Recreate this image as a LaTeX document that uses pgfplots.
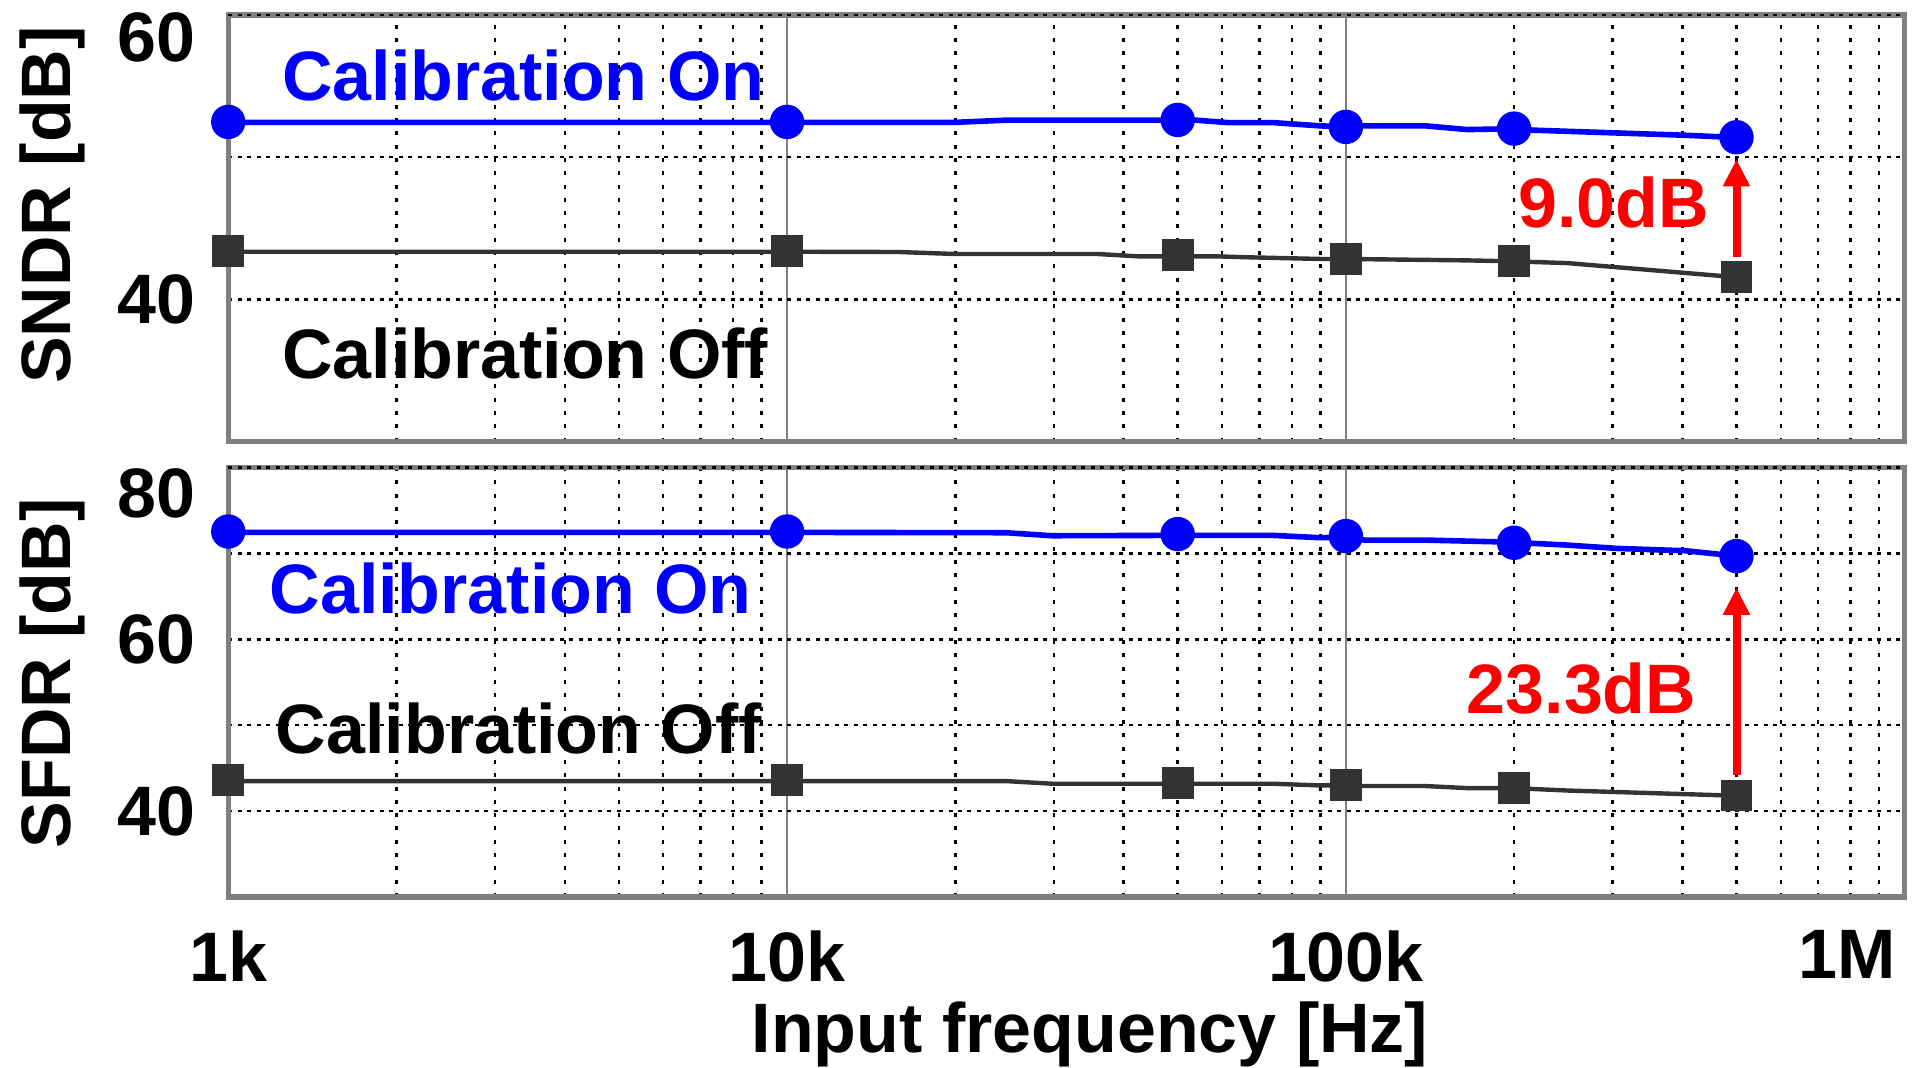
\documentclass[border=0pt]{standalone}
\usepackage{pgfplots}
\pgfplotsset{compat=1.18}
\usetikzlibrary{arrows.meta}
\usepackage{fontspec}
\setmainfont{Liberation Sans}
\definecolor{cblue}{RGB}{0,0,255}
\definecolor{cred}{RGB}{255,0,0}
\definecolor{cdark}{RGB}{51,51,51}
\definecolor{cframe}{RGB}{128,128,128}
\newcommand{\bigf}{\fontsize{17.5}{21}\selectfont\bfseries}

\begin{document}
\begin{tikzpicture}
\path (0pt,0pt) rectangle (479.5pt,-267pt);

% ---------------- SNDR ----------------
\begin{axis}[
  xmode=log,
  scale only axis, width=419.25pt, height=106.67pt,
  at={(57.08pt,-3.75pt)}, anchor=north west,
  xmin=1000, xmax=1000000,
  xtick={1000,10000,100000,1000000},
  xticklabels={,,,},
  clip=false,
  axis line style={cframe, line width=1.3pt},
  major tick length=0pt, minor tick length=0pt,
  xmajorgrids, xminorgrids, ymajorgrids,
  major x grid style={cframe, line width=0.5pt, solid},
  minor x grid style={black, line width=0.6pt, dash pattern=on 1pt off 2.33pt},
  major y grid style={black, line width=0.6pt, dash pattern=on 1pt off 1.37pt},
  tick label style={font=\bigf},
  label style={font=\bigf, inner sep=0pt},
  /pgf/number format/assume math mode=true,
  yticklabel style={anchor=east, inner sep=0pt, xshift=-8pt},
  ymin=30, ymax=60, ytick={40,50}, yticklabels={40,{}},
  extra y ticks={60}, extra y tick labels={60},
  extra y tick style={yticklabel style={anchor=north east, yshift=0.75pt}},
  ylabel={SNDR [dB]},
  ylabel style={at={(axis description cs:-0.0942,0.5547)}, anchor=base},
]
\addplot[cblue, line width=1.4pt, line join=round, no marks] coordinates {
(1000,52.45) (10000,52.45) (20000,52.45) (24600,52.6) (50000,52.6) (54000,52.6)
(61500,52.43) (74000,52.43) (90000,52.2) (100000,52.15) (108000,52.2) (139000,52.2)
(165000,51.94) (200000,52.0) (216000,51.9) (405000,51.54) (500000,51.38)};
\addplot[cdark, line width=1.1pt, line join=round, no marks] coordinates {
(1000,43.35) (10000,43.35) (15800,43.33) (20000,43.19) (35900,43.19) (42700,43.02)
(59000,43.02) (68000,42.95) (90000,42.84) (100000,42.84) (165000,42.74) (200000,42.67)
(249000,42.55) (468000,41.65) (500000,41.6)};
\addplot[only marks, mark=*, mark size=4.1pt, mark options={fill=cblue, draw=cblue}] coordinates {(1000,52.48) (10000,52.48) (50000,52.62) (100000,52.13) (200000,52.01) (500000,51.4)};
\addplot[only marks, mark=square*, mark size=3.8pt, mark options={fill=cdark, draw=cdark}] coordinates {(1000,43.43) (10000,43.43) (50000,43.12) (100000,42.84) (200000,42.67) (500000,41.6)};
\draw[cred, line width=2pt, -{Triangle[width=6.4pt,length=6.8pt]}] (axis cs:500000,43.0) -- (axis cs:500000,49.85);
\node[anchor=base west, inner sep=0pt, text=cblue, font=\bigf] at (axis cs:1245,54.0) {Calibration On};
\node[anchor=base west, inner sep=0pt, text=black, font=\bigf] at (axis cs:1245,34.4) {Calibration Off};
\node[anchor=base west, inner sep=0pt, text=cred, font=\bigf] at (axis cs:203000,45.04) {9.0dB};
\end{axis}

% ---------------- SFDR ----------------
\begin{axis}[
  xmode=log,
  scale only axis, width=419.25pt, height=107.42pt,
  at={(57.08pt,-116.92pt)}, anchor=north west,
  xmin=1000, xmax=1000000,
  xtick={1000,10000,100000,1000000},
  xticklabels={1k,10k,100k,\makebox[0pt][r]{1M\hspace{2.25pt}}},
  xticklabel style={anchor=north, inner sep=0pt, yshift=-8.15pt},
  clip=false,
  axis line style={cframe, line width=1.3pt},
  major tick length=0pt, minor tick length=0pt,
  xmajorgrids, xminorgrids, ymajorgrids,
  major x grid style={cframe, line width=0.5pt, solid},
  minor x grid style={black, line width=0.6pt, dash pattern=on 1pt off 2.33pt},
  major y grid style={black, line width=0.6pt, dash pattern=on 1pt off 1.37pt},
  tick label style={font=\bigf},
  label style={font=\bigf, inner sep=0pt},
  /pgf/number format/assume math mode=true,
  yticklabel style={anchor=east, inner sep=0pt, xshift=-8pt},
  ymin=30, ymax=80, ytick={40,50,60,70}, yticklabels={40,{},60,{}},
  extra y ticks={80}, extra y tick labels={80},
  extra y tick style={yticklabel style={anchor=north east, yshift=0pt}},
  xlabel={Input frequency [Hz]},
  xlabel style={at={(axis description cs:0.514,0)}, anchor=base, yshift=-38.9pt},
  ylabel={SFDR [dB]},
  ylabel style={at={(axis description cs:-0.0942,0.521)}, anchor=base},
]
\addplot[cblue, line width=1.4pt, line join=round, no marks] coordinates {
(1000,72.45) (10000,72.45) (24600,72.41) (29800,72.06) (50000,72.1) (74000,72.1)
(90000,71.83) (100000,71.9) (108000,71.55) (139000,71.55) (184000,71.36) (200000,71.28)
(249000,70.97) (306000,70.58) (405000,70.31) (500000,69.7)};
\addplot[cdark, line width=1.1pt, line join=round, no marks] coordinates {
(1000,43.5) (10000,43.5) (24600,43.5) (29800,43.19) (74000,43.19) (90000,42.99)
(100000,42.99) (108000,42.92) (139000,42.92) (165000,42.68) (200000,42.68)
(249000,42.4) (468000,41.85) (500000,41.82)};
\addplot[only marks, mark=*, mark size=4.1pt, mark options={fill=cblue, draw=cblue}] coordinates {(1000,72.55) (10000,72.55) (50000,72.25) (100000,72.02) (200000,71.24) (500000,69.69)};
\addplot[only marks, mark=square*, mark size=3.8pt, mark options={fill=cdark, draw=cdark}] coordinates {(1000,43.57) (10000,43.57) (50000,43.3) (100000,42.99) (200000,42.72) (500000,41.82)};
\draw[cred, line width=2pt, -{Triangle[width=6.4pt,length=6.8pt]}] (axis cs:500000,44.15) -- (axis cs:500000,66.0);
\node[anchor=base west, inner sep=0pt, text=cblue, font=\bigf] at (axis cs:1182,63.0) {Calibration On};
\node[anchor=base west, inner sep=0pt, text=black, font=\bigf] at (axis cs:1213,46.66) {Calibration Off};
\node[anchor=base west, inner sep=0pt, text=cred, font=\bigf] at (axis cs:164000,51.4) {23.3dB};
\end{axis}
\end{tikzpicture}
\end{document}
